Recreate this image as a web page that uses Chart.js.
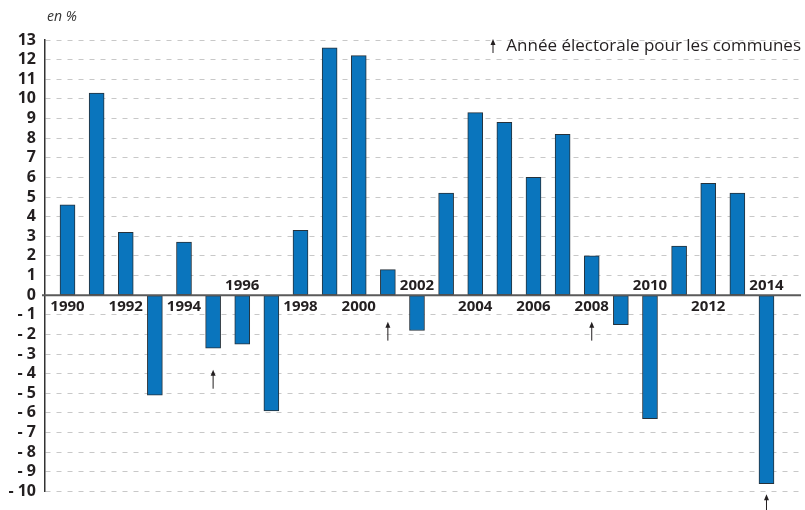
<!DOCTYPE html>
<html lang="fr">
<head>
  <meta charset="UTF-8">
  <title>Variation annuelle</title>
  <script src="https://cdn.jsdelivr.net/npm/chart.js"></script>
  <style>
    body { margin: 0; background: #fff; }
    #wrap { width: 805px; height: 510px; }
  </style>
</head>
<body>
  <div id="wrap"><canvas id="myChart" width="805" height="510"></canvas></div>

  <script>
    // Données (en %)
    const years = [1990, 1991, 1992, 1993, 1994, 1995, 1996, 1997, 1998, 1999, 2000, 2001, 2002,
                   2003, 2004, 2005, 2006, 2007, 2008, 2009, 2010, 2011, 2012, 2013, 2014];
    const values = [4.6, 10.3, 3.2, -5.1, 2.7, -2.7, -2.5, -5.9, 3.3, 12.6, 12.2, 1.3, -1.8,
                    5.2, 9.3, 8.8, 6.0, 8.2, 2.0, -1.5, -6.3, 2.5, 5.7, 5.2, -9.6];
    // années affichées sous l'axe
    const yearLabels = [1990, 1992, 1994, 1996, 1998, 2000, 2002, 2004, 2006, 2008, 2010, 2012, 2014];
    // années électorales (flèches) et pointe de la flèche en valeur de l'axe
    const electionYears = [1995, 2001, 2008, 2014];
    const arrowTips = [-3.8, -1.35, -1.35, -10.15];

    const legendText = 'Année électorale pour les communes';
    const unitText = 'en %';

    const textColor = '#231f20';

    function drawArrow(ctx, x, yTip, len) {
      ctx.save();
      ctx.strokeStyle = textColor;
      ctx.fillStyle = textColor;
      ctx.lineWidth = 1;
      ctx.beginPath();
      ctx.moveTo(x, yTip + 3);
      ctx.lineTo(x, yTip + len);
      ctx.stroke();
      ctx.beginPath();
      ctx.moveTo(x, yTip);
      ctx.lineTo(x - 2.5, yTip + 6);
      ctx.lineTo(x + 2.5, yTip + 6);
      ctx.closePath();
      ctx.fill();
      ctx.restore();
    }

    // trait du zéro, années, flèches, légende
    const decorations = {
      id: 'decorations',
      afterDatasetsDraw(chart) {
        const ctx = chart.ctx;
        const x = chart.scales.x;
        const y = chart.scales.y;
        const area = chart.chartArea;
        const y0 = y.getPixelForValue(0);

        // ligne du zéro
        ctx.save();
        ctx.strokeStyle = '#5a5a5a';
        ctx.lineWidth = 2;
        ctx.beginPath();
        ctx.moveTo(area.left - 3, y0);
        ctx.lineTo(area.right, y0);
        ctx.stroke();
        ctx.restore();

        // étiquettes des années
        ctx.save();
        ctx.font = 'bold 15px "Open Sans"';
        ctx.fillStyle = textColor;
        ctx.textAlign = 'center';
        ctx.textBaseline = 'middle';
        yearLabels.forEach(yr => {
          const v = values[years.indexOf(yr)];
          const px = x.getPixelForValue(yr);
          const py = v < 0 ? y0 - 9 : y0 + 12;
          ctx.fillText(String(yr), px, py);
        });
        ctx.restore();

        // flèches
        electionYears.forEach((yr, i) => {
          drawArrow(ctx, x.getPixelForValue(yr), y.getPixelForValue(arrowTips[i]), 19);
        });

        // légende
        drawArrow(ctx, 493, 39, 14);
        ctx.save();
        ctx.font = '17px "Open Sans"';
        ctx.fillStyle = textColor;
        ctx.textAlign = 'right';
        ctx.textBaseline = 'middle';
        ctx.fillText(legendText, 801, 46);
        ctx.restore();

        // unité
        ctx.save();
        ctx.font = 'italic 14px "Open Sans"';
        ctx.fillStyle = '#333';
        ctx.textAlign = 'left';
        ctx.textBaseline = 'middle';
        ctx.fillText(unitText, 47, 17);
        ctx.restore();
      }
    };

    const ctx = document.getElementById('myChart').getContext('2d');
    const myChart = new Chart(ctx, {
      type: 'bar',
      data: {
        datasets: [{
          data: years.map((yr, i) => ({ x: yr, y: values[i] })),
          backgroundColor: '#0a75bd',
          borderColor: '#26313a',
          borderWidth: 1,
          borderSkipped: false,
          barThickness: 15
        }]
      },
      plugins: [decorations],
      options: {
        responsive: false,
        animation: false,
        layout: { padding: { top: 40, bottom: 16, left: 0, right: 4 } },
        plugins: { legend: { display: false }, tooltip: { enabled: false } },
        scales: {
          x: {
            type: 'linear',
            display: false,
            offset: false,
            min: 1989.2275,
            max: 2015.185
          },
          y: {
            min: -10,
            max: 13,
            afterFit(scale) { scale.width = 45; },
            ticks: {
              stepSize: 1,
              autoSkip: false,
              padding: 9,
              color: textColor,
              font: { family: 'Open Sans', weight: 'bold', size: 16 },
              callback: v => v < 0 ? '- ' + Math.abs(v) : String(v)
            },
            grid: {
              color: '#c8c8c8',
              lineWidth: 1,
              drawTicks: false
            },
            border: {
              display: true,
              color: '#333',
              width: 1.5,
              dash: [5, 6]
            }
          }
        }
      }
    });
  </script>
</body>
</html>
